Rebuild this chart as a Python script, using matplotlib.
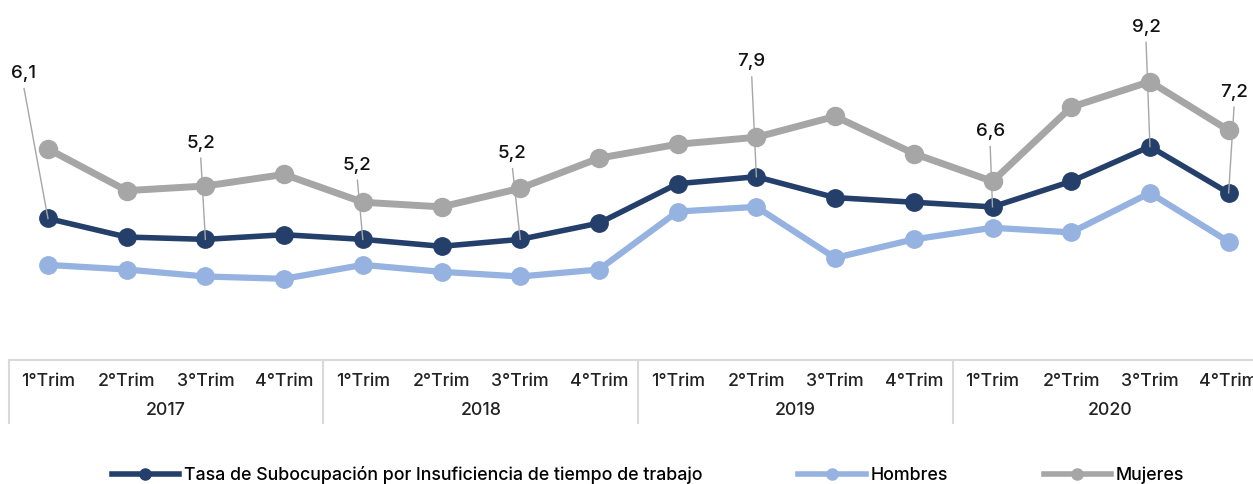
import matplotlib.pyplot as plt
from matplotlib.lines import Line2D

plt.rcParams['font.family'] = ['Inter', 'DejaVu Sans']
plt.rcParams['font.weight'] = 'medium'

years = ['2017', '2018', '2019', '2020']
quarters = ['1°Trim', '2°Trim', '3°Trim', '4°Trim']

tasa = [6.1, 5.3, 5.2, 5.4, 5.2, 4.9, 5.2, 5.9,
        7.6, 7.9, 7.0, 6.8, 6.6, 7.7, 9.2, 7.2]
hombres = [4.1, 3.9, 3.6, 3.5, 4.1, 3.8, 3.6, 3.9,
           6.4, 6.6, 4.4, 5.2, 5.7, 5.5, 7.2, 5.1]
mujeres = [9.1, 7.3, 7.5, 8.0, 6.8, 6.6, 7.4, 8.7,
           9.3, 9.6, 10.5, 8.9, 7.7, 10.9, 12.0, 9.9]

# quarters that get a value label on the total series
labeled = [0, 2, 4, 6, 9, 12, 14, 15]
# where each label sits: (x shift in quarters, height in data units)
label_pos = [(-0.31, 12.35), (-0.06, 9.35), (-0.07, 8.4), (-0.10, 8.9),
             (-0.06, 12.85), (-0.03, 9.85), (-0.05, 14.35), (0.07, 11.55)]

c_tasa = '#253f6b'
c_hom = '#95b2e0'
c_muj = '#a6a6a6'

fig = plt.figure(figsize=(12.53, 4.84), dpi=100)
ax = fig.add_axes([0.00687, 0.2562, 1.0051, 0.7190])

x = list(range(len(tasa)))
ax.plot(x, mujeres, color=c_muj, lw=5, marker='o', ms=13, zorder=2)
ax.plot(x, hombres, color=c_hom, lw=4.5, marker='o', ms=12.5, zorder=2)
ax.plot(x, tasa, color=c_tasa, lw=4, marker='o', ms=12.5, zorder=3)

for i, (dx, ly) in zip(labeled, label_pos):
    ax.plot([i + dx * 0.98, i], [ly - 0.65, tasa[i]], color='#a6a6a6',
            lw=1, zorder=4)
    ax.text(i + dx, ly, f'{tasa[i]:.1f}'.replace('.', ','), ha='center',
            va='center', fontsize=13.5, color='#111111')

ax.set_xlim(-0.5, 15.5)
ax.set_ylim(0, 15)
ax.axis('off')

# two-level category axis
xt = ax.get_xaxis_transform()
ax.plot([-0.5, 15.5], [0, 0], transform=xt, color='#d9d9d9', lw=1.5,
        clip_on=False)
for k, year in enumerate(years):
    ax.plot([4 * k - 0.5] * 2, [0, -0.18], transform=xt, color='#d9d9d9',
            lw=1.5, clip_on=False)
    for j, q in enumerate(quarters):
        ax.text(4 * k + j, -0.063, q, transform=xt, ha='center', va='center',
                fontsize=12.8, color='#222222')
    ax.text(4 * k + 1.5, -0.146, year, transform=xt, ha='center',
            va='center', fontsize=12.8, color='#222222')

handles = [
    Line2D([], [], color=c_tasa, lw=4, marker='o', ms=8),
    Line2D([], [], color=c_hom, lw=4, marker='o', ms=8),
    Line2D([], [], color=c_muj, lw=4, marker='o', ms=8),
]
names = ['Tasa de Subocupación por Insuficiencia de tiempo de trabajo',
         'Hombres', 'Mujeres']
fig.legend(handles, names, loc='center', bbox_to_anchor=(0.517, 0.019),
           ncol=3, frameon=False, fontsize=12.8, handlelength=3.8,
           handletextpad=0.25, columnspacing=5.4)

fig.savefig('out.png', dpi=100)
